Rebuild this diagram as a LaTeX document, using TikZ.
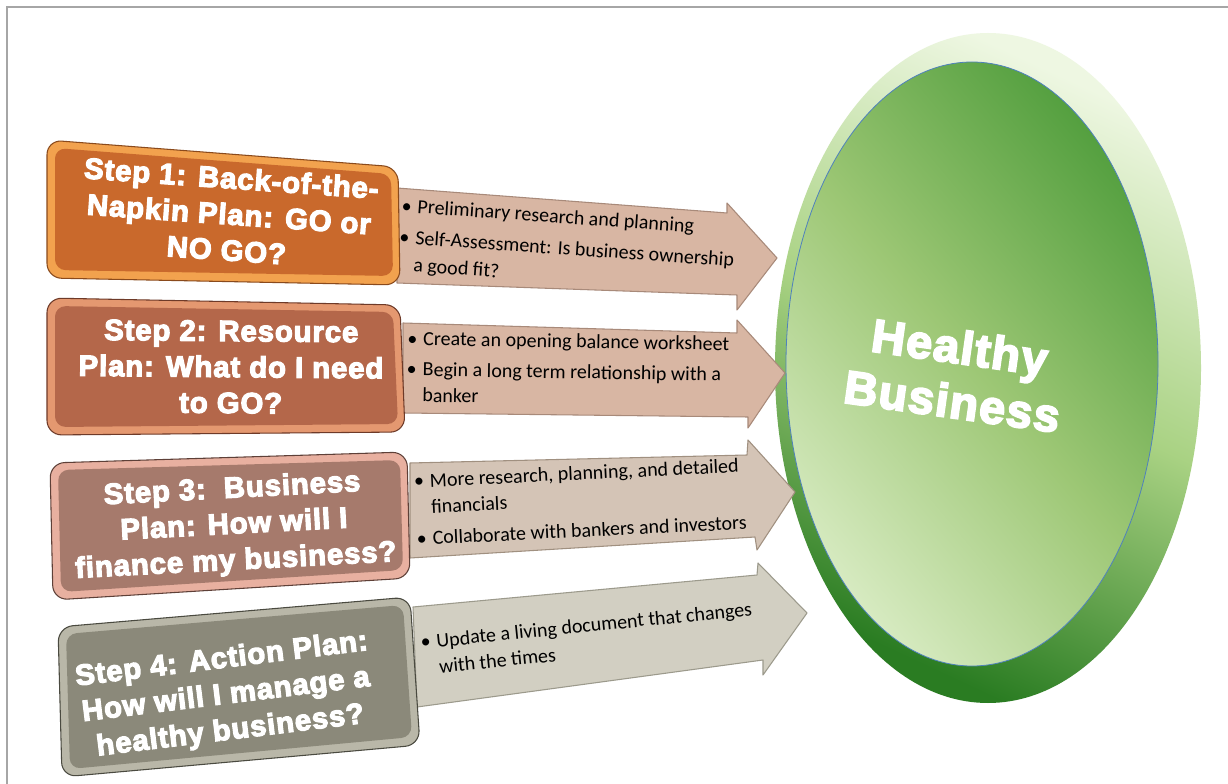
\documentclass[tikz,border=0pt]{standalone}
\usepackage{fontspec}
\setmainfont{Carlito}
\newfontfamily\stepfont{Liberation Sans}[BoldFeatures={FakeBold=4,LetterSpace=3}]
\usetikzlibrary{calc}
\definecolor{bordergray}{HTML}{A6A6A6}
\definecolor{rimtop}{HTML}{EEF7E2}
\definecolor{rimmid}{HTML}{A9D283}
\definecolor{rimbot}{HTML}{2A7C22}
\definecolor{facedark}{HTML}{55A040}
\definecolor{facemid}{HTML}{9DC775}
\definecolor{facelight}{HTML}{D6EAC0}
\definecolor{facering}{HTML}{4F81BD}
\definecolor{oface}{HTML}{C9692C}
\definecolor{orim}{HTML}{F2A24E}
\definecolor{oedge}{HTML}{8A4A1C}
\definecolor{bface}{HTML}{B4674A}
\definecolor{brim}{HTML}{E49870}
\definecolor{bedge}{HTML}{6E3A28}
\definecolor{mface}{HTML}{A67A6C}
\definecolor{mrim}{HTML}{E8B0A0}
\definecolor{medge}{HTML}{5E4038}
\definecolor{gface}{HTML}{8B897A}
\definecolor{grim}{HTML}{B9B7A8}
\definecolor{gedge}{HTML}{4A4A40}
\definecolor{arrA}{HTML}{D8B6A3}
\definecolor{arrAedge}{HTML}{A88A7A}
\definecolor{arrB}{HTML}{D4C4B6}
\definecolor{arrBedge}{HTML}{A09080}
\definecolor{arrC}{HTML}{D2CFC2}
\definecolor{arrCedge}{HTML}{9C9A8C}
\tikzset{
  steptext/.style={font=\stepfont\bfseries\fontsize{22}{27}\selectfont, text=white, align=center, inner sep=0pt},
  bullettext/.style={font=\fontsize{15}{19.5}\selectfont, text=black, inner sep=0pt, anchor=base west},
  arrowshape/.style={line width=0.8pt, line join=round},
  outerbox/.style={rounded corners=11pt, line width=0.8pt},
  innerbox/.style={rounded corners=8pt},
  bigtext/.style={font=\stepfont\bfseries\fontsize{35}{41}\selectfont, text=white, align=center, inner sep=0pt}
}
\begin{document}
\begin{tikzpicture}[x=0.75pt,y=-0.75pt]
\useasboundingbox (0,0) rectangle (1228,784);
\fill[white] (0,0) rectangle (1228,784);
\draw[bordergray, line width=1.5pt] (7,784) -- (7,7) -- (1228,7);

% central ellipse
\shade[top color=rimtop, bottom color=rimbot, middle color=rimmid, shading angle=-25]
  (988,368) ellipse [x radius=159.75pt, y radius=251.25pt];
\shade[top color=facedark, bottom color=facelight, middle color=facemid, shading angle=-50]
  (972,364) ellipse [x radius=139.5pt, y radius=226.5pt];
\draw[facering, line width=0.6pt] (972,364) ellipse [x radius=139.5pt, y radius=226.5pt];
\node[bigtext, rotate=-8] (hb) at (956,374) {Healthy\\Business};

% arrows
\filldraw[arrowshape, fill=arrA, draw=arrAedge] (397,188) -- (727,213) -- (727,203) -- (777,258) -- (737,310) -- (737,295) -- (397,283) -- cycle;
\filldraw[arrowshape, fill=arrA, draw=arrAedge] (403,323) -- (737,333) -- (737,320) -- (785,373) -- (748,428) -- (748,417) -- (403,413) -- cycle;
\filldraw[arrowshape, fill=arrB, draw=arrBedge] (410,463) -- (747,455) -- (748,440) -- (795,492) -- (757,550) -- (755,537) -- (410,558) -- cycle;
\filldraw[arrowshape, fill=arrC, draw=arrCedge] (413,607) -- (757,575) -- (758,563) -- (807,613) -- (763,675) -- (763,660) -- (417,707) -- cycle;

% arrow texts
\node[bullettext, rotate=-4] (t1) at (401,212) {\begin{tabular}[t]{@{}p{12pt}@{}l@{}}\textbullet & Preliminary research and planning\\[4pt] \textbullet & Self-Assessment: Is business ownership\\[1pt] & a good fit?\end{tabular}};
\node[bullettext, rotate=-1] (t2) at (407,345) {\begin{tabular}[t]{@{}p{12pt}@{}l@{}}\textbullet & Create an opening balance worksheet\\[3.5pt] \textbullet & Begin a long term relationship with a\\ & banker\end{tabular}};
\node[bullettext, rotate=2.8] (t3) at (414,488) {\begin{tabular}[t]{@{}p{12pt}@{}l@{}}\textbullet & More research, planning, and detailed\\ & financials\\[4pt] \textbullet & Collaborate with bankers and investors\end{tabular}};
\node[bullettext, rotate=5.8] (t4) at (421,649) {\begin{tabular}[t]{@{}p{12pt}@{}l@{}}\textbullet & Update a living document that changes\\ & with the times\end{tabular}};

% step boxes
\filldraw[outerbox, fill=orim, draw=oedge] (47,140) -- (398,167) -- (400,285) -- (47,278) -- cycle;
\fill[innerbox, oface] (55,148) -- (391,174) -- (393,276) -- (55,270) -- cycle;
\filldraw[outerbox, fill=brim, draw=bedge] (47,298) -- (400,305) -- (405,432) -- (47,435) -- cycle;
\fill[innerbox, bface] (55,306) -- (393,312) -- (398,424) -- (55,427) -- cycle;
\filldraw[outerbox, fill=mrim, draw=medge] (50,463) -- (407,452) -- (410,578) -- (53,600) -- cycle;
\fill[innerbox, mface] (58,470) -- (400,460) -- (403,570) -- (61,592) -- cycle;
\filldraw[outerbox, fill=grim, draw=gedge] (58,627) -- (410,597) -- (420,745) -- (62,777) -- cycle;
\fill[innerbox, gface] (66,634) -- (403,605) -- (412,737) -- (70,769) -- cycle;

\node[steptext, rotate=-4] (s1) at (229,214) {Step 1: Back-of-the-\\Napkin Plan: GO or\\NO GO?};
\node[steptext, rotate=-0.5] (s2) at (231,367) {Step 2: Resource\\Plan: What do I need\\to GO?};
\node[steptext, rotate=3] (s3) at (234,526) {Step 3:\ \ Business\\Plan: How will I\\finance my business?};
\node[steptext, rotate=7] (s4) at (226,696) {Step 4: Action Plan:\\How will I manage a\\healthy business?};
\end{tikzpicture}
\end{document}
